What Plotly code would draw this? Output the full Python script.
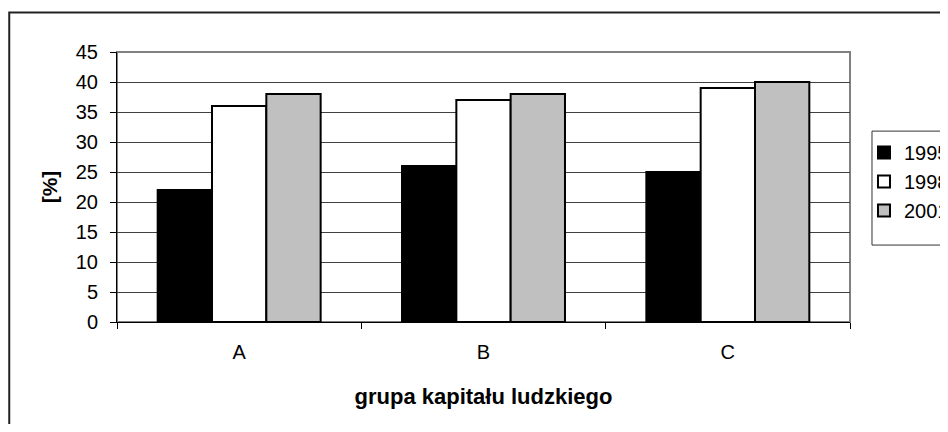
import plotly.graph_objects as go

categories = ["A", "B", "C"]
years = ["1995", "1998", "2001"]
values_1995 = [22, 26, 25]
values_1998 = [36, 37, 39]
values_2001 = [38, 38, 40]
y_ticks = [0, 5, 10, 15, 20, 25, 30, 35, 40, 45]

series = [values_1995, values_1998, values_2001]
fills = ["#000000", "#ffffff", "#c0c0c0"]

FONT = "Liberation Sans, Arial, sans-serif"

fig = go.Figure()
for name, vals, col in zip(years, series, fills):
    fig.add_trace(go.Bar(
        x=categories, y=vals, name=name, legendgroup=name,
        marker=dict(color=col, line=dict(color="#000000", width=2)),
    ))

fig.update_layout(
    width=940, height=416,
    paper_bgcolor="white", plot_bgcolor="white",
    margin=dict(l=109, r=98, t=44, b=102, autoexpand=False),
    barmode="group", bargap=0.333, bargroupgap=0,
    font=dict(family=FONT, size=20, color="#000000"),
    showlegend=True,
    legend=dict(
        x=1.030, xanchor="left", y=0.700, yanchor="top",
        borderwidth=0, bgcolor="rgba(0,0,0,0)",
        font=dict(family=FONT, size=20), tracegroupgap=0,
        indentation=-8,
    ),
    xaxis=dict(
        type="category", tickson="boundaries", ticks="outside", ticklen=6,
        tickcolor="#000000", showline=True, linecolor="#000000", linewidth=1,
        showgrid=False, ticklabelstandoff=12,
        title=dict(text="<b>grupa kapitału ludzkiego</b>", standoff=26,
                   font=dict(family=FONT, size=22)),
    ),
    yaxis=dict(
        range=[0, 45], tickvals=y_ticks, ticks="outside", ticklen=6,
        tickcolor="#000000", showline=True, linecolor="#000000", linewidth=1,
        showgrid=True, gridcolor="#404040", gridwidth=1, zeroline=False,
        ticklabelstandoff=8,
        title=dict(text="<b>[%]</b>", standoff=12, font=dict(family=FONT, size=21)),
    ),
    shapes=[
        dict(type="rect", xref="paper", yref="paper", x0=0, x1=1, y0=0, y1=1,
             line=dict(color="#808080", width=2), layer="below"),
        dict(type="rect", xref="paper", yref="paper", x0=-0.147, x1=1.2, y0=-0.5, y1=1.146,
             line=dict(color="#222222", width=2), layer="below"),
        dict(type="rect", xref="paper", yref="paper", x0=1.030, x1=1.2, y0=0.285, y1=0.707,
             line=dict(color="#333333", width=1), layer="below"),
    ],
)

fig.write_html(
    "out.html",
    post_script="document.documentElement.style.overflow='hidden';document.body.style.overflow='hidden';",
)
